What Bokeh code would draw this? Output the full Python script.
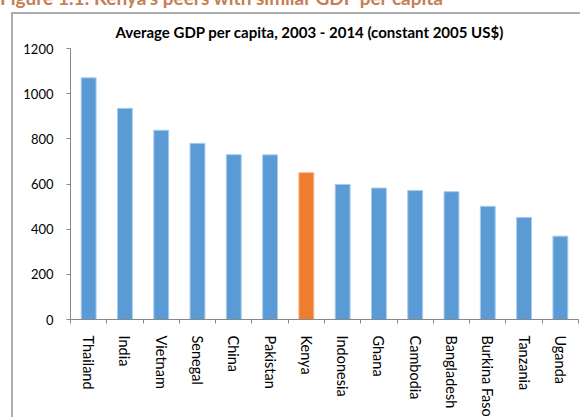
from bokeh.plotting import figure
from bokeh.layouts import column
from bokeh.models import FixedTicker, Range1d, ColumnDataSource, Div
from bokeh.embed import file_html
from bokeh.resources import INLINE

countries = ["Thailand", "India", "Vietnam", "Senegal", "China", "Pakistan", "Kenya",
             "Indonesia", "Ghana", "Cambodia", "Bangladesh", "Burkina Faso", "Tanzania", "Uganda"]
gdp = [1070, 935, 838, 780, 730, 729, 650, 598, 582, 571, 566, 501, 452, 369]
highlight = "Kenya"
y_ticks = [0, 200, 400, 600, 800, 1000, 1200]
chart_title = "Average GDP per capita, 2003 - 2014  (constant 2005 US$)"
caption = "Figure 1.1: Kenya's peers with similar GDP per capita"

BLUE, BLUE_EDGE = "#5B9BD5", "#A9CBEB"
ORANGE, ORANGE_EDGE = "#ED7D31", "#F5B48A"
AXIS = "#888888"
BOX = "#ADADAD"
FONT = "Lato"

xs = [i + 0.5 for i in range(len(countries))]
fills = [ORANGE if c == highlight else BLUE for c in countries]
edges = [ORANGE_EDGE if c == highlight else BLUE_EDGE for c in countries]
src = ColumnDataSource(dict(x=xs, top=gdp, fill=fills, edge=edges, name=countries))

p = figure(width=569, height=405, output_backend="svg", toolbar_location=None,
           x_range=Range1d(0, len(countries)), y_range=Range1d(0, 1200),
           min_border_left=57, min_border_top=34, min_border_bottom=98, min_border_right=4,
           margin=(0, 0, 0, 11),
           styles={"border-left": f"2px solid {BOX}", "border-top": f"2px solid {BOX}"})
p.outline_line_color = None
p.grid.grid_line_color = None

p.title.text = chart_title
p.title.align = "left"
p.title.vertical_align = "middle"
p.title.offset = 45
p.title.standoff = 13
p.title.text_font = FONT
p.title.text_font_style = "bold"
p.title.text_font_size = "15px"
p.title.text_color = "#000000"

p.vbar(x="x", top="top", width=0.41, source=src, fill_color="fill", line_color="edge", line_width=1)

# x axis: labels at category centres, tick marks at category boundaries
p.xaxis.ticker = FixedTicker(ticks=xs, minor_ticks=list(range(len(countries) + 1)))
p.xaxis.major_label_overrides = {x: c for x, c in zip(xs, countries)}
p.xaxis.major_label_orientation = "vertical"
p.xaxis.major_tick_out = 0
p.xaxis.major_tick_in = 0
p.xaxis.minor_tick_out = 4
p.xaxis.minor_tick_in = 0
p.xaxis.minor_tick_line_color = AXIS
p.xaxis.axis_line_color = AXIS
p.xaxis.major_label_standoff = 12
p.xaxis.major_label_text_font = FONT
p.xaxis.major_label_text_font_size = "14.5px"
p.xaxis.major_label_text_color = "#000000"

# y axis
p.yaxis.ticker = FixedTicker(ticks=y_ticks)
p.yaxis.major_tick_out = 4
p.yaxis.major_tick_in = 0
p.yaxis.minor_tick_line_color = None
p.yaxis.axis_line_color = AXIS
p.yaxis.major_tick_line_color = AXIS
p.yaxis.major_label_standoff = 13
p.yaxis.major_label_text_font = FONT
p.yaxis.major_label_text_font_size = "13px"
p.yaxis.major_label_text_color = "#000000"

# caption above the boxed chart, cut off at the top as in the reference
cap = Div(text=(f'<div style="position:relative; top:-12px; margin:0; white-space:nowrap; '
                f'font-family:{FONT}; font-weight:bold; font-size:19px; line-height:19px; '
                f'color:#C47F52;">{caption}</div>'),
          width=582, height=12, margin=(0, 0, 0, 0), styles={"overflow": "hidden"})

layout = column(cap, p, spacing=0, margin=(0, 0, 0, 0))

open("out.html", "w").write(file_html(layout, INLINE))
